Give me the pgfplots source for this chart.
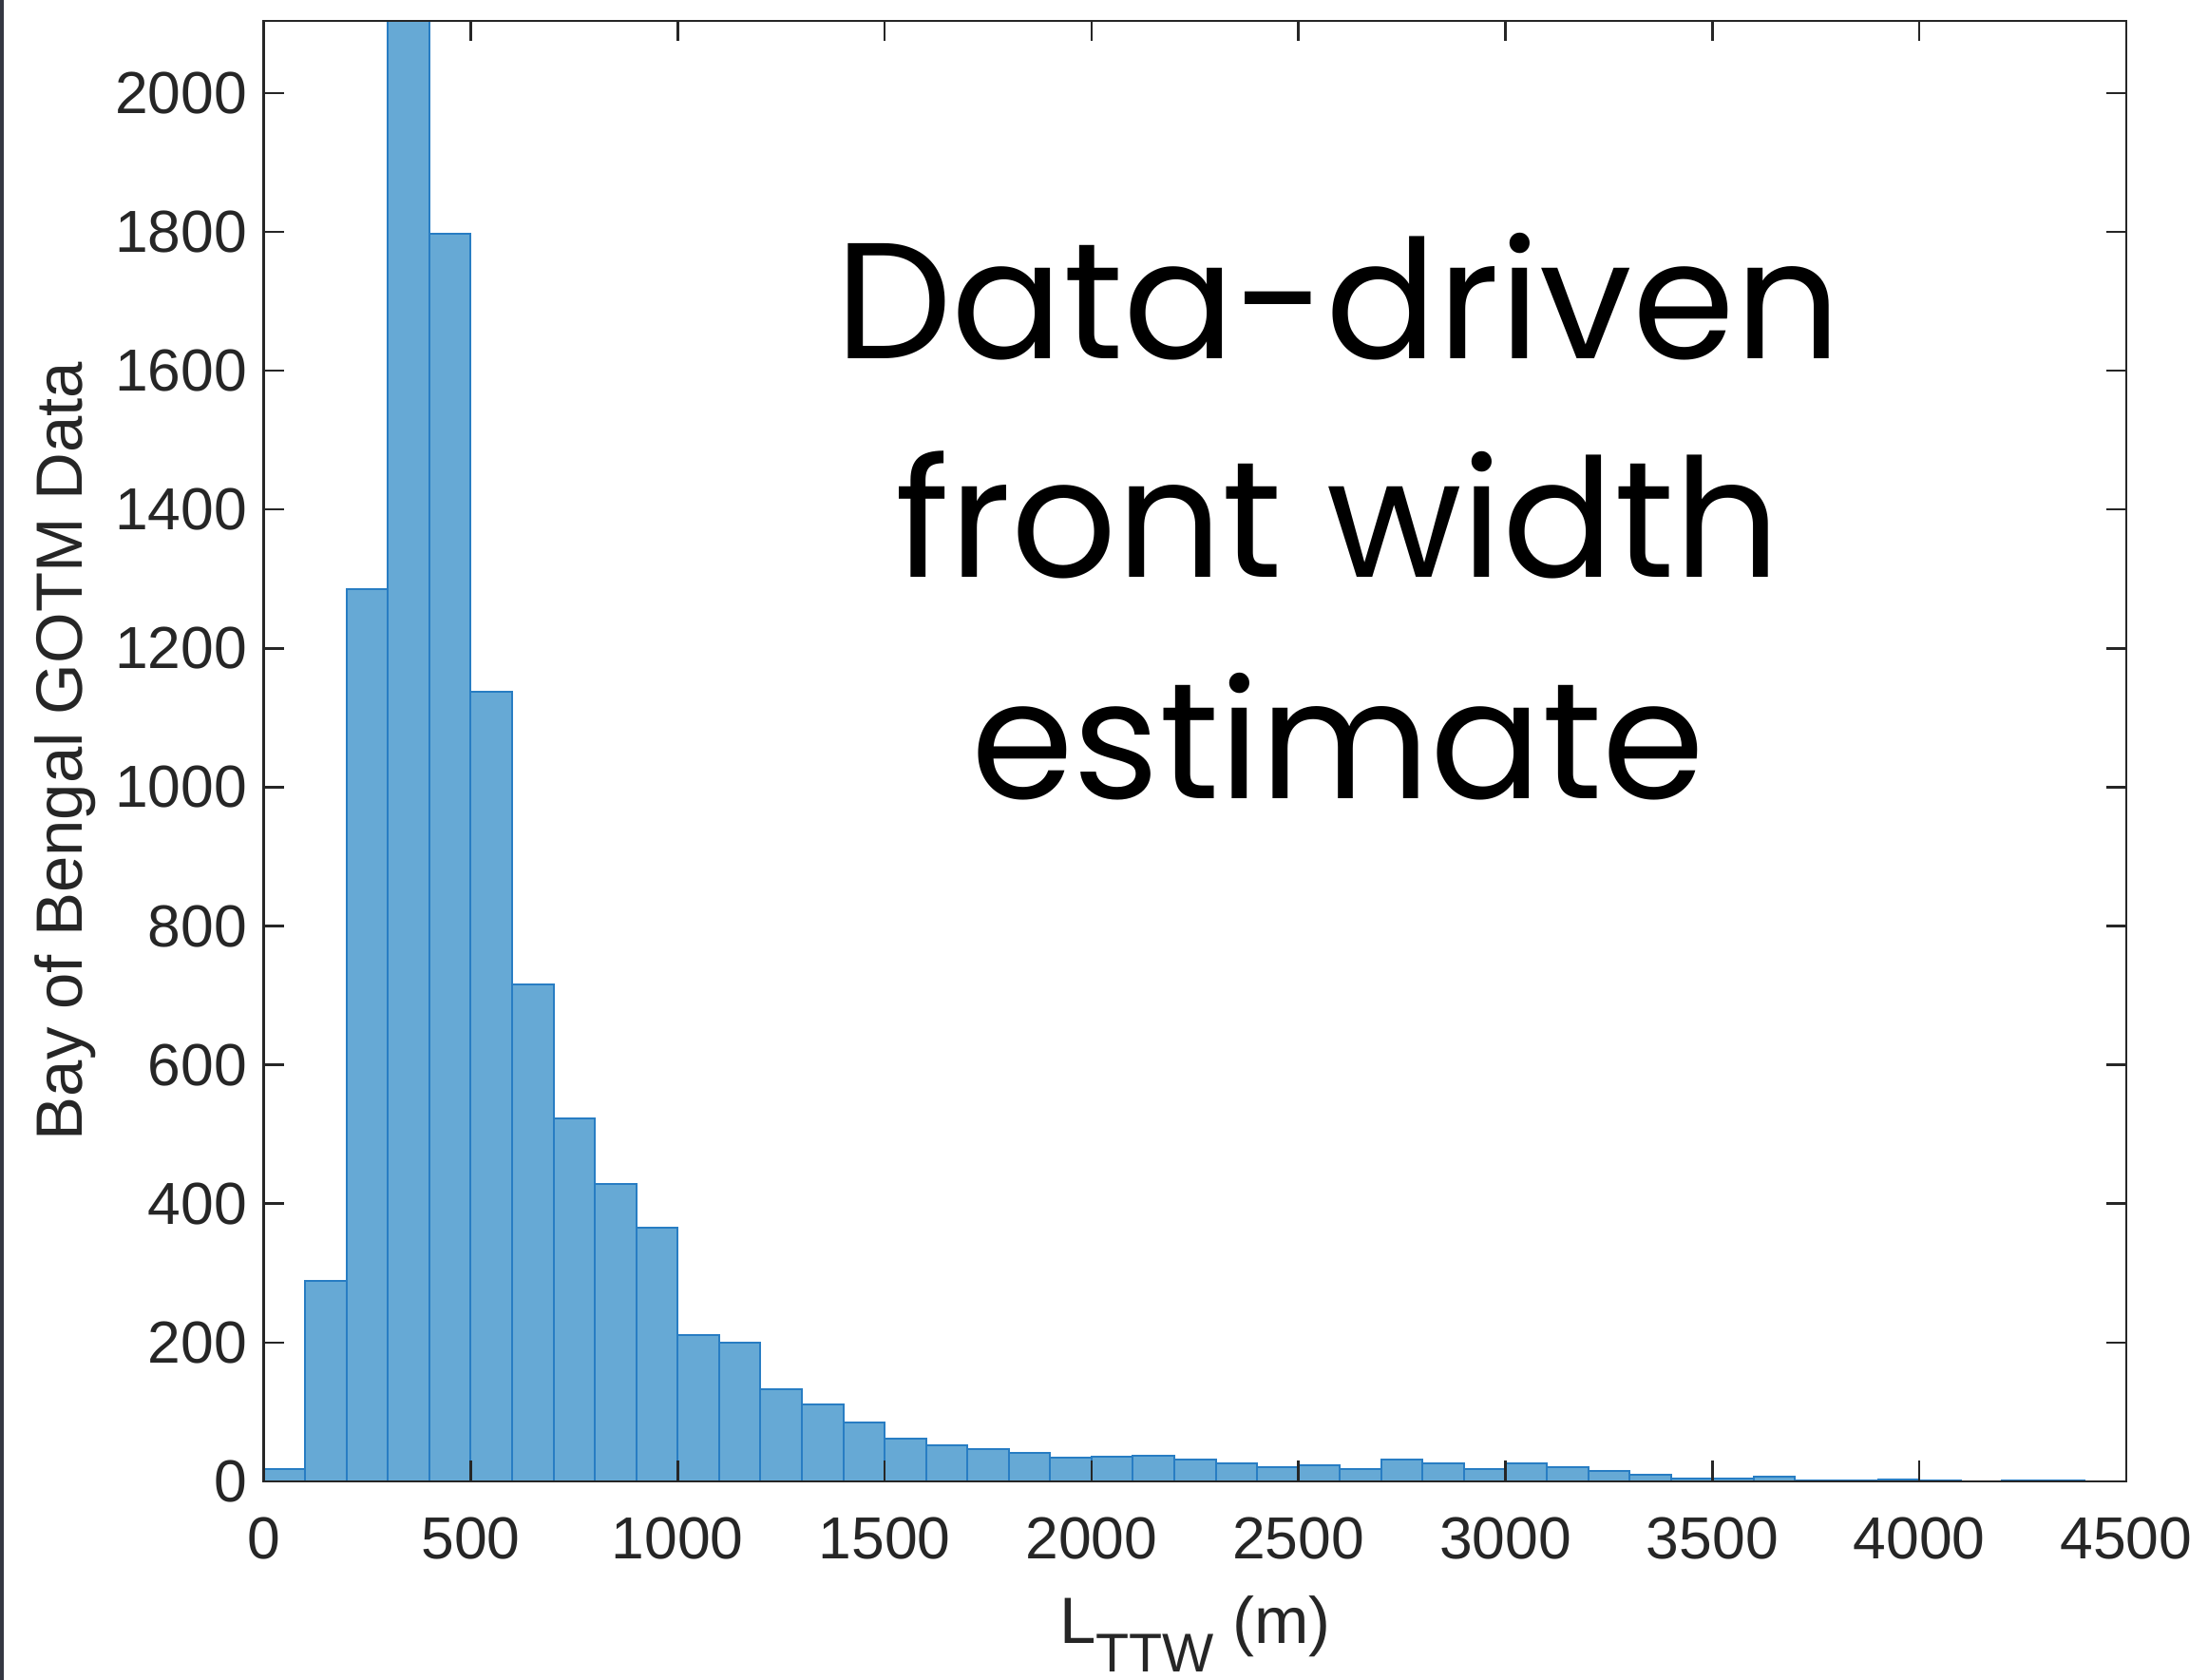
\documentclass[border=0pt]{standalone}
\usepackage{fontspec}
\setmainfont{Liberation Sans}
\newfontfamily\comicfont{Poppins}
\usepackage{pgfplots}
\pgfplotsset{compat=1.18}
\definecolor{barfill}{RGB}{102,169,213}
\definecolor{baredge}{RGB}{40,125,195}
\definecolor{axgray}{RGB}{38,38,38}
\definecolor{stripc}{RGB}{52,55,66}
\begin{document}
\begin{tikzpicture}
\begin{axis}[
  scale only axis, width=392.6pt, height=307.8pt,
  xmin=0, xmax=4500, ymin=0, ymax=2104,
  xtick={0,500,...,4500}, ytick={0,200,...,2000},
  tick align=inside, major tick length=4.3pt,
  axis on top,
  axis line style={axgray, line width=0.5pt},
  tick style={axgray, line width=0.5pt},
  /pgf/number format/1000 sep={},
  /pgf/number format/assume math mode=true,
  scaled ticks=false,
  tick label style={font=\fontsize{12.5}{14}\selectfont, text=axgray},
  xticklabel style={yshift=-4pt},
  xlabel={L\raisebox{-6pt}{\fontsize{11.5}{12}\selectfont TTW}~(m)},
  ylabel={Bay of Bengal GOTM Data},
  label style={font=\fontsize{13.8}{15}\selectfont, text=axgray, inner sep=0pt},
  xlabel style={at={(axis description cs:0.5,-0.1111)}, anchor=base},
  ylabel style={at={(axis description cs:-0.0973,0.5)}, anchor=base},
]
\addplot[ybar interval, fill=barfill, draw=baredge, line width=0.4pt] coordinates {
(0,18) (100,289) (200,1285) (300,2400) (400,1798) (500,1137) (600,716) (700,523)
(800,428) (900,366) (1000,211) (1100,200) (1200,132) (1300,111) (1400,85) (1500,61)
(1600,52) (1700,47) (1800,41) (1900,34) (2000,35) (2100,37) (2200,31) (2300,26)
(2400,21) (2500,23) (2600,18) (2700,31) (2800,26) (2900,17) (3000,26) (3100,21)
(3200,15) (3300,10) (3400,4) (3500,4) (3600,7) (3700,1) (3800,1) (3900,3)
(4000,1) (4100,0) (4200,1) (4300,1) (4400,0)
};
\node[font=\comicfont\fontsize{34.8}{36}\selectfont, anchor=base, inner sep=0pt] at (rel axis cs:0.5767,0.7687) {Data-driven};
\node[font=\comicfont\fontsize{34.8}{36}\selectfont, anchor=base, inner sep=0pt] at (rel axis cs:0.5767,0.6192) {front width};
\node[font=\comicfont\fontsize{34.8}{36}\selectfont, anchor=base, inner sep=0pt] at (rel axis cs:0.5767,0.4672) {estimate};
\end{axis}
\fill[stripc] (-55.6pt,-41.8pt) rectangle (-54.8pt,312.2pt);
\path[use as bounding box] (-55.6pt,-41.8pt) rectangle (409.2pt,312.2pt);
\end{tikzpicture}
\end{document}
